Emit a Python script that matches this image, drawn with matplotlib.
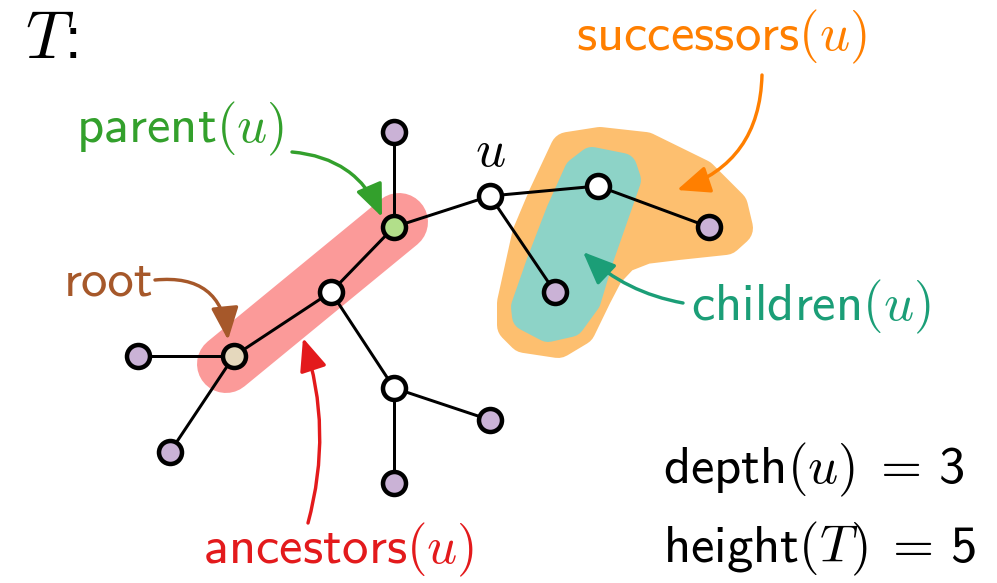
import matplotlib.pyplot as plt
from matplotlib.patches import Polygon, FancyArrowPatch

plt.rcParams['mathtext.fontset'] = 'cm'
plt.rcParams['font.family'] = ['cmss10', 'DejaVu Sans']
plt.rcParams['axes.unicode_minus'] = False

# tree nodes (pixel coordinates of the picture)
node_x = [234, 138, 170, 331, 394, 394, 490, 394, 394, 490, 598, 555, 709]
node_y = [356, 356, 452, 292, 227, 132, 196, 388, 483, 420, 186, 292, 227]
node_kind = ['root', 'leaf', 'leaf', 'inner', 'parent', 'leaf', 'inner',
             'inner', 'leaf', 'leaf', 'inner', 'leaf', 'leaf']
edges = [(0, 1), (0, 2), (0, 3), (3, 4), (4, 5), (4, 6), (3, 7), (7, 8),
         (7, 9), (6, 10), (6, 11), (10, 12)]

fill = {'root': '#e5d8bd', 'leaf': '#cab2d6', 'parent': '#b2df8a', 'inner': 'white'}

# highlighted regions (inner outlines, drawn with a thick round stroke)
orange_x = [568, 600, 645, 700, 730, 735, 725, 678, 645, 622, 606, 594, 578, 558, 525, 515, 515, 530, 546]
orange_y = [150, 145, 150, 177, 207, 228, 237, 242, 246, 255, 272, 295, 328, 340, 335, 325, 303, 235, 197]
teal_x = [592, 622, 626, 612, 598, 586, 570, 548, 527, 526, 541, 561, 579]
teal_y = [162, 168, 180, 220, 260, 300, 322, 327, 316, 307, 264, 212, 172]
red_x = [226, 399]
red_y = [364, 222]

PT = 0.72  # points per pixel at dpi 100

fig = plt.figure(figsize=(9.97, 5.83), dpi=100)
ax = fig.add_axes([0, 0, 1, 1])
ax.set_xlim(0, 997)
ax.set_ylim(583, 0)
ax.axis('off')

ax.add_patch(Polygon(list(zip(orange_x, orange_y)), closed=True, fc='#fdbf6f',
                     ec='#fdbf6f', lw=36 * PT, joinstyle='round', zorder=1))
ax.add_patch(Polygon(list(zip(teal_x, teal_y)), closed=True, fc='#8dd3c7',
                     ec='#8dd3c7', lw=30 * PT, joinstyle='round', zorder=2))
ax.plot(red_x, red_y, color='#fb9a99', lw=58 * PT, solid_capstyle='round', zorder=2)

for a, b in edges:
    ax.plot([node_x[a], node_x[b]], [node_y[a], node_y[b]], color='black',
            lw=3 * PT, zorder=3)

for x, y, k in zip(node_x, node_y, node_kind):
    ax.plot(x, y, 'o', ms=23 * PT, mfc=fill[k], mec='black', mew=4.5 * PT, zorder=4)

# annotation arrows: (start, end, rad, colour)
arrows = [((292, 152), (382, 217), -0.3, '#33a02c'),
          ((155, 280), (228, 340), -0.5, '#a6582a'),
          ((308, 523), (303, 338), 0.15, '#e31a1c'),
          ((762, 75), (677, 190), -0.35, '#ff7f00'),
          ((683, 303), (583, 252), -0.15, '#1b9e77')]
for s, e, rad, c in arrows:
    ax.add_patch(FancyArrowPatch(s, e, connectionstyle=f'arc3,rad={rad}',
                                 arrowstyle='-|>,head_length=1.0,head_width=0.42',
                                 mutation_scale=20, color=c, lw=3.4 * PT,
                                 shrinkA=0, shrinkB=0, zorder=5))

fs = 38
ax.text(25, 58, r'$T$:', fontsize=48, ha='left', va='baseline')
ax.text(490, 166, r'$u$', fontsize=fs, ha='center', va='baseline')
ax.text(180, 142, r'parent$(u)$', fontsize=fs, color='#33a02c', ha='center', va='baseline')
ax.text(109, 296, 'root', fontsize=fs, color='#a6582a', ha='center', va='baseline')
ax.text(721, 50, r'successors$(u)$', fontsize=fs, color='#ff7f00', ha='center', va='baseline')
ax.text(811, 320, r'children$(u)$', fontsize=fs, color='#1b9e77', ha='center', va='baseline')
ax.text(339, 563, r'ancestors$(u)$', fontsize=fs, color='#e31a1c', ha='center', va='baseline')
ax.text(663, 483, r'depth$(u)\;=\,$3', fontsize=fs, ha='left', va='baseline')
ax.text(663, 562, r'height$(T)\;=\,$5', fontsize=fs, ha='left', va='baseline')

fig.savefig('out.png', dpi=100)
